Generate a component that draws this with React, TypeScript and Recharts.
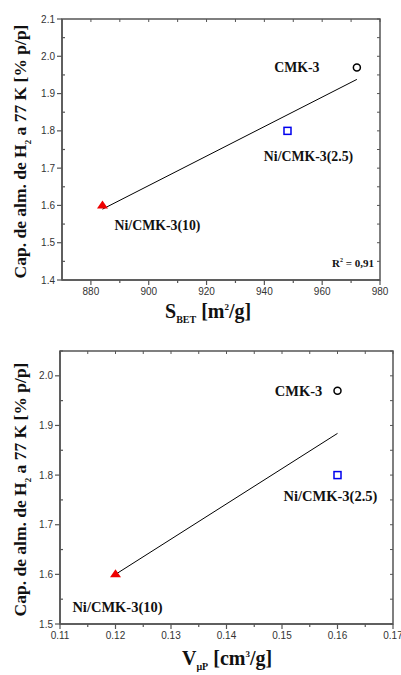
import { ScatterChart, Scatter, XAxis, YAxis, ReferenceArea, Label } from 'recharts';

const samples = ['Ni/CMK-3(10)', 'Ni/CMK-3(2.5)', 'CMK-3'];
const h2Capacity = [1.6, 1.8, 1.97];
const sBet = [884, 948, 972];
const vMicro = [0.12, 0.16, 0.16];

// linear fits, end points
const betFitX = [884, 972];
const betFitY = [1.59, 1.938];
const vFitX = [0.12, 0.16];
const vFitY = [1.6, 1.884];

const betTicks = [880, 890, 900, 910, 920, 930, 940, 950, 960, 970, 980];
const betLabels = [880, 900, 920, 940, 960, 980];
const cap1Ticks = [1.4, 1.45, 1.5, 1.55, 1.6, 1.65, 1.7, 1.75, 1.8, 1.85, 1.9, 1.95, 2.0, 2.05, 2.1];
const cap1Labels = [1.4, 1.5, 1.6, 1.7, 1.8, 1.9, 2.0, 2.1];
const vTicks = [0.11, 0.115, 0.12, 0.125, 0.13, 0.135, 0.14, 0.145, 0.15, 0.155, 0.16, 0.165, 0.17];
const vLabels = [0.11, 0.12, 0.13, 0.14, 0.15, 0.16, 0.17];
const cap2Ticks = [1.5, 1.55, 1.6, 1.65, 1.7, 1.75, 1.8, 1.85, 1.9, 1.95, 2.0, 2.05];
const cap2Labels = [1.5, 1.6, 1.7, 1.8, 1.9, 2.0];

const betPoints = samples.map((name, i) => ({ name, x: sBet[i], y: h2Capacity[i] }));
const vPoints = samples.map((name, i) => ({ name, x: vMicro[i], y: h2Capacity[i] }));
const betFit = betFitX.map((x, i) => ({ x, y: betFitY[i] }));
const vFit = vFitX.map((x, i) => ({ x, y: vFitY[i] }));

const axisColor = '#555';
const serif = '"Liberation Serif", "Times New Roman", serif';
const sans = '"Liberation Sans", Arial, sans-serif';

const isIn = (list: number[], v: number) => list.some((l) => Math.abs(l - v) < 1e-9);

const XTick = ({ x, y, payload, labels, digits, plotH }: any) => {
  const major = isIn(labels, payload.value);
  return (
    <g>
      <line x1={x} x2={x} y1={y} y2={major ? y + 5 : y + 3} stroke={axisColor} strokeWidth={1.2} />
      <line x1={x} x2={x} y1={y - plotH} y2={y - plotH + 3} stroke={axisColor} strokeWidth={1} />
      {major && (
        <text x={x} y={y + 15} textAnchor="middle" fontFamily={sans} fontSize={10} fill="#333">
          {digits ? payload.value.toFixed(digits) : payload.value}
        </text>
      )}
    </g>
  );
};

const YTick = ({ x, y, payload, labels, plotW }: any) => {
  const major = isIn(labels, payload.value);
  return (
    <g>
      <line x1={major ? x - 5 : x} x2={major ? x : x + 3} y1={y} y2={y} stroke={axisColor} strokeWidth={1.2} />
      <line x1={x + plotW} x2={x + plotW - 3} y1={y} y2={y} stroke={axisColor} strokeWidth={1} />
      {major && (
        <text x={x - 7} y={y} dy="0.35em" textAnchor="end" fontFamily={sans} fontSize={10} fill="#333">
          {payload.value.toFixed(1)}
        </text>
      )}
    </g>
  );
};

const SampleMark = ({ cx, cy, payload, offsets, fontSize }: any) => {
  const i = samples.indexOf(payload.name);
  const [dx, dy] = offsets[i];
  let mark;
  if (i === 0) {
    mark = <polygon points={`${cx - 5.5},${cy + 3} ${cx + 5.5},${cy + 3} ${cx},${cy - 5}`} fill="#ee0000" />;
  } else if (i === 1) {
    mark = <rect x={cx - 3.5} y={cy - 3.5} width={7} height={7} fill="none" stroke="#0000ee" strokeWidth={1.5} />;
  } else {
    mark = <circle cx={cx} cy={cy} r={3.5} fill="none" stroke="#000" strokeWidth={1.5} />;
  }
  return (
    <g>
      {mark}
      <text x={cx + dx} y={cy + dy} dy="0.35em" textAnchor="middle" fontFamily={serif} fontWeight="bold" fontSize={fontSize} fill="#111">
        {payload.name}
      </text>
    </g>
  );
};

const YTitle = ({ viewBox }: any) => {
  const cx = 26;
  const cy = viewBox.y + viewBox.height / 2 + 2;
  return (
    <text x={cx} y={cy} transform={`rotate(-90, ${cx}, ${cy})`} textAnchor="middle" fontFamily={serif} fontWeight="bold" fontSize={17.5} fill="#111">
      Cap. de alm. de H<tspan fontSize={9} dy={5}>2</tspan><tspan dy={-5}> a 77 K [% p/p]</tspan>
    </text>
  );
};

const noShape = () => <g />;

const ChartOne = () => (
  <ScatterChart width={401} height={335} margin={{ top: 19, right: 21, left: 0, bottom: 0 }}>
    <XAxis type="number" dataKey="x" domain={[870, 980]} ticks={betTicks} interval={0} tickSize={0} tickMargin={0}
      height={55} stroke={axisColor} strokeWidth={1.5}
      tick={<XTick labels={betLabels} digits={0} plotH={261} />}>
      <Label content={({ viewBox }: any) => (
        <text x={165} y={viewBox.y + 38} fontFamily={serif} fontWeight="bold" fontSize={20} fill="#111">
          S<tspan fontSize={10} dy={5}>BET</tspan><tspan dy={-5}> [m</tspan><tspan fontSize={9} dy={-8}>2</tspan><tspan dy={8}>/g]</tspan>
        </text>
      )} />
    </XAxis>
    <YAxis type="number" dataKey="y" domain={[1.4, 2.1]} ticks={cap1Ticks} interval={0} tickSize={0} tickMargin={0}
      width={62} stroke={axisColor} strokeWidth={1.5}
      tick={<YTick labels={cap1Labels} plotW={318} />}>
      <Label content={YTitle} />
    </YAxis>
    <ReferenceArea x1={870} x2={980} y1={1.4} y2={2.1} fill="none" stroke={axisColor} strokeWidth={1.5} />
    <Scatter data={betFit} line={{ stroke: '#000', strokeWidth: 1 }} shape={noShape} isAnimationActive={false} />
    <Scatter data={betPoints} isAnimationActive={false}
      shape={(p: any) => <SampleMark {...p} offsets={[[55, 20], [21, 25], [-60, 0]]} fontSize={13.8} />} />
  </ScatterChart>
);

const ChartTwo = () => (
  <ScatterChart width={401} height={340} margin={{ top: 16, right: 8, left: 0, bottom: 0 }}>
    <XAxis type="number" dataKey="x" domain={[0.11, 0.17]} ticks={vTicks} interval={0} tickSize={0} tickMargin={0}
      height={51} stroke={axisColor} strokeWidth={1.5}
      tick={<XTick labels={vLabels} digits={2} plotH={273} />}>
      <Label content={({ viewBox }: any) => (
        <text x={182} y={viewBox.y + 41} fontFamily={serif} fontWeight="bold" fontSize={20} fill="#111">
          V<tspan fontSize={10} dy={5}>μP</tspan><tspan dy={-5}> [cm</tspan><tspan fontSize={9} dy={-8}>3</tspan><tspan dy={8}>/g]</tspan>
        </text>
      )} />
    </XAxis>
    <YAxis type="number" dataKey="y" domain={[1.5, 2.05]} ticks={cap2Ticks} interval={0} tickSize={0} tickMargin={0}
      width={60} stroke={axisColor} strokeWidth={1.5}
      tick={<YTick labels={cap2Labels} plotW={333} />}>
      <Label content={YTitle} />
    </YAxis>
    <ReferenceArea x1={0.11} x2={0.17} y1={1.5} y2={2.05} fill="none" stroke={axisColor} strokeWidth={1.5} />
    <Scatter data={vFit} line={{ stroke: '#000', strokeWidth: 1 }} shape={noShape} isAnimationActive={false} />
    <Scatter data={vPoints} isAnimationActive={false}
      shape={(p: any) => <SampleMark {...p} offsets={[[2, 33], [-7, 21], [-39, 0]]} fontSize={14.5} />} />
  </ScatterChart>
);

export default function App() {
  return (
    <div style={{ position: 'absolute', left: 0, top: 0, width: 401, height: 675, background: '#fff' }}>
      <ChartOne />
      <div style={{ position: 'absolute', left: 332, top: 257, fontFamily: serif, fontWeight: 'bold', fontSize: 11, color: '#111' }}>
        R<sup style={{ fontSize: 6 }}>2</sup> = 0,91
      </div>
      <ChartTwo />
    </div>
  );
}
